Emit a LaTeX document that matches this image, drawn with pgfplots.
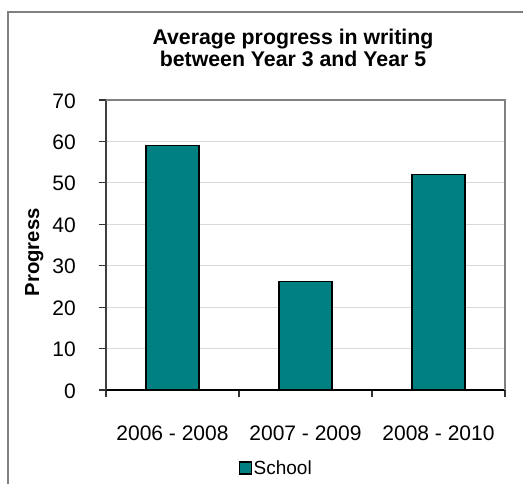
\documentclass[border=0pt]{standalone}
\usepackage{fontspec}
\setmainfont{Liberation Sans}
\usepackage{pgfplots}
\pgfplotsset{compat=1.18}
\definecolor{barteal}{HTML}{008080}
\definecolor{framegray}{HTML}{808080}
\definecolor{gridgray}{HTML}{D9D9D9}
\begin{document}
\begin{tikzpicture}[x=1pt,y=1pt]
\useasboundingbox (0,0) rectangle (523,483);
% chart frame (only the left and top edges fall inside the picture)
\draw[framegray, line width=1.5pt] (8,-3) -- (8,471) -- (526,471);
% title
\node[font=\fontsize{21.3}{22}\selectfont\bfseries, anchor=base] at (293,438.5) {Average progress in writing};
\node[font=\fontsize{21.3}{22}\selectfont\bfseries, anchor=base] at (293,416.5) {between Year 3 and Year 5};
\begin{axis}[
  at={(106pt,93pt)}, anchor=south west,
  scale only axis, width=399pt, height=290pt,
  clip=false,
  ybar,
  xmin=-0.5, xmax=2.5, ymin=0, ymax=70,
  ytick={0,10,...,70},
  xtick={0,1,2},
  xticklabels={2006 - 2008, 2007 - 2009, 2008 - 2010},
  minor xtick={-0.5,0.5,1.5,2.5},
  major x tick style={draw=none},
  tick align=outside,
  major tick length=7pt, minor tick length=7pt,
  tick style={black!80, line width=1.2pt},
  axis x line*=bottom, axis y line*=left,
  x axis line style={black, line width=1.5pt},
  y axis line style={black!75, line width=1.5pt},
  ymajorgrids,
  grid style={gridgray, line width=1.1pt},
  /pgf/number format/assume math mode=true,
  ticklabel style={font=\fontsize{21}{22}\selectfont},
  yticklabel style={anchor=base east, inner sep=0pt, xshift=-23pt, yshift=-8pt},
  xticklabel style={anchor=base, inner sep=0pt, yshift=-43pt},
  ylabel={Progress},
  ylabel style={font=\fontsize{20.3}{22}\selectfont\bfseries, at={(axis description cs:-0.18,0.475)}, anchor=center},
  legend style={at={(axis description cs:0.426,-0.269)}, anchor=center,
    draw=none, fill=none, inner sep=0pt,
    font=\fontsize{19}{22}\selectfont, nodes={inner sep=1.5pt}},
]
\addplot[fill=barteal, draw=black, line width=1.5pt, bar width=0.4,
  legend image code/.code={\draw[##1, line width=1.5pt] (0pt,-6pt) rectangle (12pt,6pt);}]
  coordinates {(0,59) (1,26.2) (2,52)};
\addlegendentry{School}
% plot-area border on the top and right
\draw[framegray, line width=1.8pt] (rel axis cs:0,1) -- (rel axis cs:1,1) -- (rel axis cs:1,0);
\end{axis}
\end{tikzpicture}
\end{document}
